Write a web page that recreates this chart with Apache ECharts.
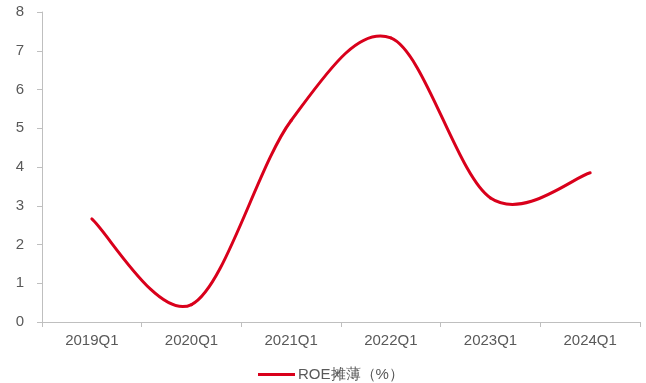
<!DOCTYPE html>
<html>
<head>
<meta charset="utf-8">
<script src="https://cdn.jsdelivr.net/npm/echarts@6/dist/echarts.min.js"></script>
<style>
  html, body { margin: 0; padding: 0; background: #fff; }
  #chart { width: 646px; height: 383px; }
</style>
</head>
<body>
<div id="chart"></div>
<script>
// Quarterly diluted ROE, Q1 of each year
const quarters = ['2019Q1', '2020Q1', '2021Q1', '2022Q1', '2023Q1', '2024Q1'];
const roeDiluted = [2.66, 0.45, 5.2, 7.33, 3.2, 3.85];
const seriesName = 'ROE摊薄（%）';

const lineColor = '#d9001b';
const axisGray = '#bfbfbf';
const textGray = '#595959';

const chart = echarts.init(document.getElementById('chart'));

// Catmull-Rom style smoothing: each segment is a cubic bezier whose
// control points come from the neighbouring points (pixel space).
function renderSmoothLine(params, api) {
  if (params.dataIndex !== 0) return null;
  const pts = roeDiluted.map((v, i) => api.coord([i, v]));
  const n = pts.length;
  const k = 1 / 6;
  const segs = [];
  for (let i = 0; i < n - 1; i++) {
    const p0 = pts[Math.max(0, i - 1)];
    const p1 = pts[i];
    const p2 = pts[i + 1];
    const p3 = pts[Math.min(n - 1, i + 2)];
    segs.push({
      type: 'bezierCurve',
      shape: {
        x1: p1[0], y1: p1[1],
        x2: p2[0], y2: p2[1],
        cpx1: p1[0] + (p2[0] - p0[0]) * k,
        cpy1: p1[1] + (p2[1] - p0[1]) * k,
        cpx2: p2[0] - (p3[0] - p1[0]) * k,
        cpy2: p2[1] - (p3[1] - p1[1]) * k
      },
      style: { stroke: lineColor, lineWidth: 3, fill: null, lineCap: 'round' }
    });
  }
  return { type: 'group', children: segs };
}

chart.setOption({
  animation: false,
  textStyle: { fontFamily: 'Liberation Sans, Arial, sans-serif' },
  grid: { left: 42, right: 6, top: 12, bottom: 61 },
  legend: {
    top: 367,
    left: 258,
    padding: 0,
    itemWidth: 37,
    itemHeight: 3,
    itemGap: 10,
    textStyle: { color: textGray, fontSize: 15, padding: [0, 0, 0, -2] },
    data: [{ name: seriesName, icon: 'rect', itemStyle: { color: lineColor } }]
  },
  xAxis: {
    type: 'category',
    data: quarters,
    boundaryGap: true,
    axisLine: { lineStyle: { color: axisGray, width: 1 } },
    axisTick: { show: true, length: 5, lineStyle: { color: axisGray } },
    axisLabel: { color: textGray, fontSize: 15, margin: 11 }
  },
  yAxis: {
    type: 'value',
    min: 0,
    max: 8,
    interval: 1,
    splitLine: { show: false },
    axisLine: { show: true, lineStyle: { color: axisGray, width: 1 } },
    axisTick: { show: true, length: 5, lineStyle: { color: axisGray } },
    axisLabel: { color: textGray, fontSize: 15, margin: 18 }
  },
  series: [{
    name: seriesName,
    type: 'custom',
    coordinateSystem: 'cartesian2d',
    renderItem: renderSmoothLine,
    data: roeDiluted.map((v, i) => [i, v]),
    encode: { x: 0, y: 1 },
    itemStyle: { color: lineColor },
    clip: false
  }]
});
</script>
</body>
</html>
